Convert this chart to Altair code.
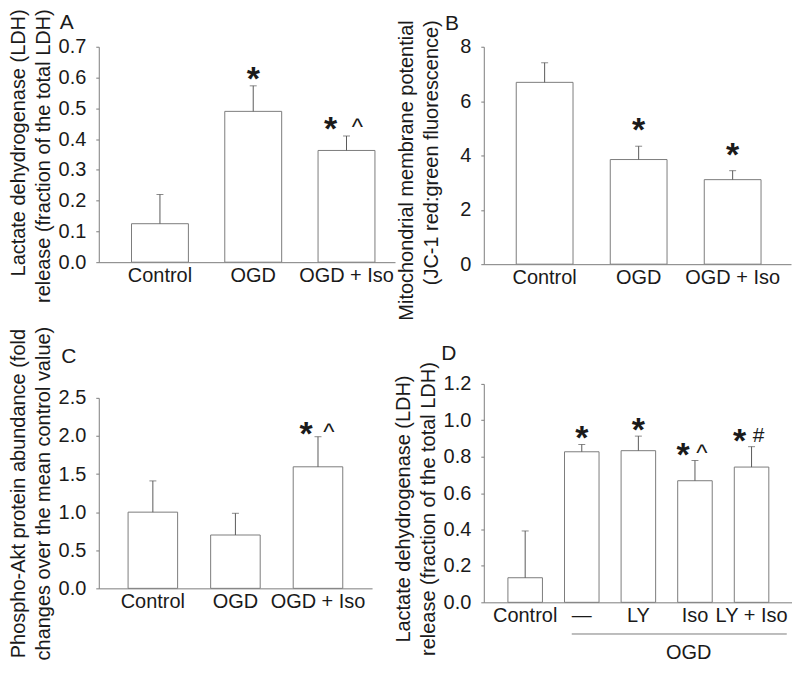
import altair as alt
import pandas as pd

FONT = "Liberation Sans"
TXT = "#1a1a1a"
GRAY = "#7c7c7c"
ERR = "#5a5a5a"

# ---------------- data ----------------
cats_A = ["Control", "OGD", "OGD + Iso"]
mean_A = [0.125, 0.49, 0.363]
upper_A = [0.22, 0.573, 0.41]
sig_A = ["", "*", "*^"]

cats_B = ["Control", "OGD", "OGD + Iso"]
mean_B = [6.69, 3.85, 3.11]
upper_B = [7.41, 4.34, 3.44]
sig_B = ["", "*", "*"]

cats_C = ["Control", "OGD", "OGD + Iso"]
mean_C = [1.0, 0.70, 1.595]
upper_C = [1.41, 0.985, 1.99]
sig_C = ["", "", "*^"]

cats_D = ["Control", "\u2014", "LY", "Iso", "LY + Iso"]
mean_D = [0.135, 0.827, 0.833, 0.668, 0.743]
upper_D = [0.392, 0.867, 0.913, 0.779, 0.855]
sig_D = ["", "*", "*", "*^", "*#"]

ticks_A = [0.0, 0.1, 0.2, 0.3, 0.4, 0.5, 0.6, 0.7]
ticks_B = [0, 2, 4, 6, 8]
ticks_C = [0.0, 0.5, 1.0, 1.5, 2.0, 2.5]
ticks_D = [0.0, 0.2, 0.4, 0.6, 0.8, 1.0, 1.2]

title_A = ["Lactate dehydrogenase (LDH)", "release (fraction of the total LDH)"]
title_B = ["Mitochondrial membrane potential", "(JC-1 red:green fluorescence)"]
title_C = ["Phospho-Akt protein abundance (fold", "changes over the mean control value)"]
title_D = ["Lactate dehydrogenase (LDH)", "release (fraction of the total LDH)"]
group_D = "OGD"
group_D_members = ["\u2014", "LY + Iso"]
group_D_label_at = "Iso"

SYM_SIZE = {"*": 34, "^": 24, "#": 21}
SYM_WEIGHT = {"*": "bold", "^": "normal", "#": "normal"}
SYM_DY = {"*": 0, "^": -5, "#": -10}


def panel(cats, means, uppers, sigs, ymax, ticks, fmt, w, h, pin, pout, palign,
          title, title_pad, title_y, title_align, letter, letter_xy, star_dy,
          pair_dx, extra=None):
    df = pd.DataFrame({"cat": cats, "mean": means, "upper": uppers})
    xscale = alt.Scale(domain=cats, paddingInner=pin, paddingOuter=pout, align=palign)
    yscale = alt.Scale(domain=[0, ymax], nice=False, zero=True)
    x = alt.X("cat:N", scale=xscale, sort=cats,
              axis=alt.Axis(title=None, labelAngle=0, ticks=False, tickSize=0,
                            labelPadding=3, labelOverlap=False))
    ykw = dict(values=ticks, format=fmt, title=title, grid=False, tickSize=3,
               labelPadding=10, titlePadding=title_pad, labelOverlap=False,
               labelFlush=False, labelBound=False, tickCount=len(ticks))
    if title_y is not None:
        ykw["titleY"] = title_y
    if title_align is not None:
        ykw["titleAlign"] = title_align
    y = alt.Y("mean:Q", scale=yscale, axis=alt.Axis(**ykw))

    base = alt.Chart(df)
    layers = [
        base.mark_bar(fill="white", stroke=GRAY, strokeWidth=1).encode(x=x, y=y),
        base.mark_rule(color=ERR, strokeWidth=1).encode(x="cat:N", y="mean:Q", y2="upper:Q"),
        base.mark_tick(color=ERR, thickness=1, size=7).encode(x="cat:N", y="upper:Q"),
    ]

    # significance symbols
    for c, u, s in zip(cats, uppers, sigs):
        if not s:
            continue
        if len(s) == 1:
            offs = [0]
        else:
            offs = list(pair_dx)
        for sym, dx in zip(s, offs):
            sdf = pd.DataFrame({"cat": [c], "upper": [u], "sym": [sym]})
            layers.append(
                alt.Chart(sdf).mark_text(
                    font=FONT, fontSize=SYM_SIZE[sym], fontWeight=SYM_WEIGHT[sym],
                    color=TXT, align="center", baseline="alphabetic",
                    dx=dx, dy=star_dy + SYM_DY[sym],
                ).encode(x="cat:N", y="upper:Q", text="sym:N")
            )

    # panel letter
    layers.append(
        alt.Chart(pd.DataFrame({"t": [letter]})).mark_text(
            font=FONT, fontSize=21, color=TXT, align="center", baseline="middle"
        ).encode(x=alt.value(letter_xy[0]), y=alt.value(letter_xy[1]), text="t:N")
    )
    if extra:
        layers.extend(extra)
    return alt.layer(*layers).properties(width=w, height=h)


# group bracket under panel D
bracket = alt.Chart(pd.DataFrame({"g": [group_D]})).mark_rule(
    color=GRAY, strokeWidth=1, x2Offset=18
).encode(
    x=alt.XDatum(group_D_members[0], type="nominal", bandPosition=0.21),
    x2=alt.X2Datum(group_D_members[1], bandPosition=1),
    y=alt.YDatum(-0.174, type="quantitative"),
)
group_text = alt.Chart(pd.DataFrame({"g": [group_D]})).mark_text(
    font=FONT, fontSize=20, color=TXT, align="center", baseline="middle"
).encode(
    x=alt.XDatum(group_D_label_at, type="nominal", bandPosition=0.32),
    y=alt.YDatum(-0.278, type="quantitative"),
    text="g:N",
)

A = panel(cats_A, mean_A, upper_A, sig_A, 0.7, ticks_A, ".1f", 297, 216, 0.39, 0.283, 0.62,
          title_A, 5, -38, "right", "A", (-32, -24), 4, (-16, 11))
B = panel(cats_B, mean_B, upper_B, sig_B, 8, ticks_B, "d", 308, 218, 0.396, 0.332, 0.52,
          title_B, 18, -27, "right", "B", (-32, -23), -5, (-13, 10))
C = panel(cats_C, mean_C, upper_C, sig_C, 2.5, ticks_C, ".1f", 274, 191, 0.40, 0.355, 0.5,
          title_C, 5, None, None, "C", (-30, -41), 8, (-12, 11))
D = panel(cats_D, mean_D, upper_D, sig_D, 1.2, ticks_D, ".1f", 309, 219, 0.39, 0.418, 0.51,
          title_D, 5, 125, None, "D", (-35, -30), 5, (-12, 7),
          extra=[bracket, group_text])

col1 = alt.vconcat(A, C, spacing=136, bounds="flush")
col2 = alt.vconcat(B, D, spacing=120, bounds="flush")

chart = alt.hconcat(col1, col2, spacing=-2).properties(
    padding={"left": 0, "top": 0, "right": 0, "bottom": 0}
).configure_axis(
    labelFont=FONT, titleFont=FONT, labelColor=TXT, titleColor=TXT,
    labelFontSize=20, titleFontSize=20, titleFontWeight="normal",
    domainColor=GRAY, tickColor=GRAY, titleLineHeight=25,
    labelOverlap=False,
).configure_axisY(labelOverlap=False).configure_view(stroke=None)

chart.save("out.html", embed_options={"renderer": "svg", "actions": False})
